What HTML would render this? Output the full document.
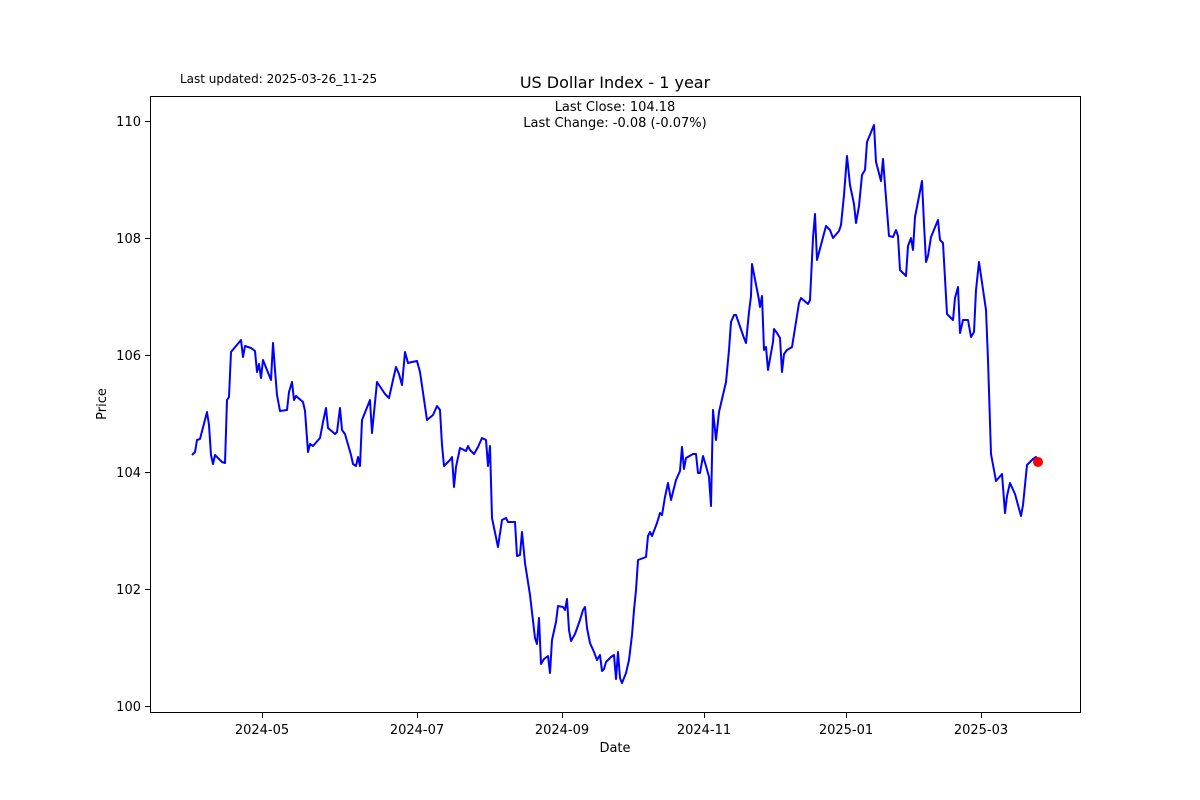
<!DOCTYPE html>
<html><head><meta charset="utf-8"><style>
html,body{margin:0;padding:0;background:#fff;}
svg{display:block;font-family:"DejaVu Sans","Liberation Sans",sans-serif;}
</style></head><body>
<svg width="1200" height="800" viewBox="0 0 1200 800" xmlns="http://www.w3.org/2000/svg">
<rect width="1200" height="800" fill="#fff"/>
<text x="180" y="83" font-size="12">Last updated: 2025-03-26_11-25</text>
<text x="615" y="88" font-size="16" text-anchor="middle">US Dollar Index - 1 year</text>
<text x="615" y="111" font-size="13" text-anchor="middle">Last Close: 104.18</text>
<text x="615" y="127" font-size="13" text-anchor="middle">Last Change: -0.08 (-0.07%)</text>
<polyline fill="none" stroke="#0000ff" stroke-width="2" stroke-linejoin="round" points="192,455 195,452 197,440 200,439 207,412 209,425 211,455 213,464 215,455 222,462 225,463 227,400 229,397 231,352 241,340 243,357 245,346 251,348 255,351 257,372 259,364 261,378 263,360 271,380 273,343 275,370 277,395 280,411 287,410 289,392 292,382 294,400 296,396 303,402 305,411 308,452 310,444 313,446 320,438 323,422 326,408 328,428 335,434 337,432 340,408 342,430 345,434 351,455 353,464 356,466 358,457 360,466 362,420 370,400 372,433 377,382 385,394 389,398 393,380 396,367 399,374 402,385 405,352 408,363 412,362 417,361 420,372 427,420 433,415 437,406 440,410 442,445 444,466 450,460 452,457 454,487 456,467 460,448 466,451 468,446 470,450 474,454 478,447 482,438 486,440 488,466 490,446 492,518 498,547 502,520 506,518 508,522 515,522 517,556 520,555 522,532 525,563 530,595 535,638 537,644 539,618 541,664 544,659 548,656 550,673 552,640 556,622 558,606 563,607 565,610 567,599 569,630 571,641 575,634 580,620 583,610 585,607 587,628 590,643 594,652 597,660 600,655 602,671 604,669 606,662 611,657 614,655 616,679 618,652 620,678 622,683 626,673 629,660 632,635 634,610 636,590 638,560 646,557 648,536 650,532 652,536 657,523 660,513 662,515 665,497 668,483 671,500 676,480 680,471 682,447 684,469 686,458 693,454 696,454 698,473 700,473 703,456 706,466 709,477 711,506 713,410 716,440 719,412 726,382 729,350 731,322 734,315 736,315 744,338 746,343 749,312 751,296 752,264 759,300 760,307 762,296 764,350 766,347 768,370 773,342 774,329 777,333 780,338 782,372 784,354 787,350 792,347 796,322 799,303 801,298 808,304 810,300 813,238 815,214 817,260 826,226 828,228 830,230 833,238 839,231 841,225 844,195 847,156 850,185 854,204 856,223 859,206 862,175 865,170 867,142 874,125 876,162 881,181 883,159 885,185 889,236 893,237 896,230 898,236 900,270 906,276 908,246 911,238 913,250 915,217 922,181 924,224 926,262 928,256 931,237 938,220 940,240 943,243 947,314 953,320 955,298 958,287 960,333 963,320 968,320 971,337 974,332 976,290 979,262 986,310 988,360 991,454 996,481 1002,474 1005,513 1007,496 1010,483 1015,494 1021,516 1023,505 1025,485 1027,465 1030,462 1033,459 1036,457 1038,462"/>
<circle cx="1038" cy="462" r="5" fill="#ff0000"/>
<rect x="150.5" y="96.5" width="930" height="616" fill="none" stroke="#000" stroke-width="1"/>
<g stroke="#000" stroke-width="1">
<line x1="150" y1="121.5" x2="145" y2="121.5"/>
<line x1="150" y1="238.5" x2="145" y2="238.5"/>
<line x1="150" y1="355.5" x2="145" y2="355.5"/>
<line x1="150" y1="472.5" x2="145" y2="472.5"/>
<line x1="150" y1="589.5" x2="145" y2="589.5"/>
<line x1="150" y1="706.5" x2="145" y2="706.5"/>
<line x1="262.5" y1="713" x2="262.5" y2="718"/>
<line x1="417.5" y1="713" x2="417.5" y2="718"/>
<line x1="562.5" y1="713" x2="562.5" y2="718"/>
<line x1="704.5" y1="713" x2="704.5" y2="718"/>
<line x1="846.5" y1="713" x2="846.5" y2="718"/>
<line x1="981.5" y1="713" x2="981.5" y2="718"/>
</g>
<g font-size="13" text-anchor="end">
<text x="141" y="126">110</text>
<text x="141" y="243">108</text>
<text x="141" y="360">106</text>
<text x="141" y="477">104</text>
<text x="141" y="594">102</text>
<text x="141" y="711">100</text>
</g>
<g font-size="13" text-anchor="middle">
<text x="262" y="734">2024-05</text>
<text x="417" y="734">2024-07</text>
<text x="562" y="734">2024-09</text>
<text x="704" y="734">2024-11</text>
<text x="846" y="734">2025-01</text>
<text x="981" y="734">2025-03</text>
<text x="615" y="752">Date</text>
</g>
<text x="106" y="404" font-size="13" text-anchor="middle" transform="rotate(-90 106 404)">Price</text>
</svg>
</body></html>
